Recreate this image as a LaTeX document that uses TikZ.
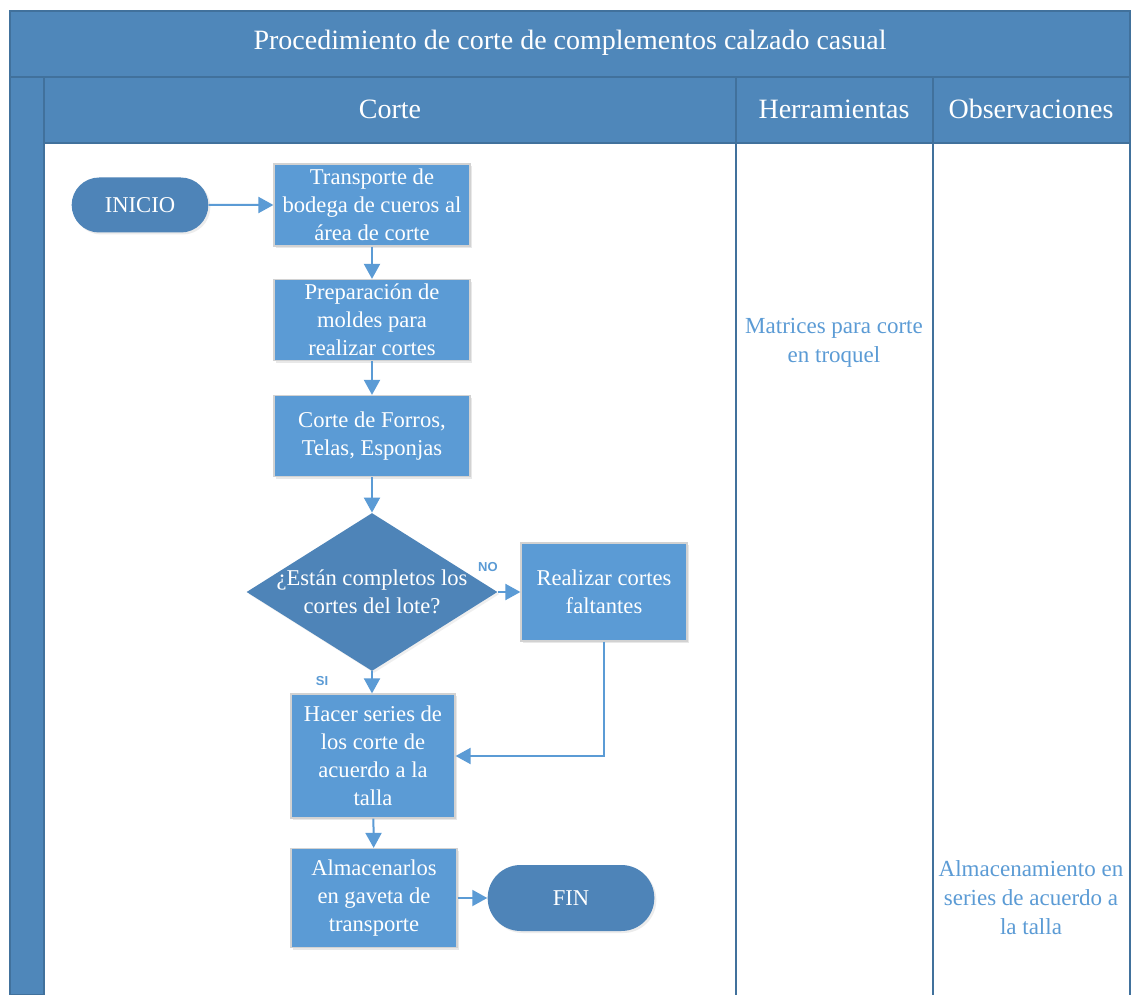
\documentclass[tikz,border=0pt]{standalone}
\usepackage{xcolor}
\usepackage{fontspec}
\setmainfont{Liberation Serif}
\setsansfont{Liberation Sans}
\usetikzlibrary{arrows.meta, positioning, shapes.geometric, shapes.misc, shadows}
\definecolor{chead} {RGB}{79,135,186}
\definecolor{cline} {RGB}{65,113,156}
\definecolor{cbox}  {RGB}{91,155,213}
\definecolor{cdark} {RGB}{78,132,184}
\tikzset{
  band/.style={fill=chead, draw=cline, line width=0.8pt},
  htxt/.style={text=white, font=\fontsize{14}{16}\selectfont},
  proc/.style={rectangle, fill=cbox, draw=gray!35, line width=0.6pt,
               text=white, font=\fontsize{11.3}{14}\selectfont, align=center,
               inner sep=0pt,
               drop shadow={opacity=0.18, shadow xshift=1.2pt, shadow yshift=-1.2pt}},
  term/.style={rounded rectangle, fill=cdark, draw=none,
               text=white, font=\fontsize{11.3}{14}\selectfont,
               drop shadow={opacity=0.15, shadow xshift=1pt, shadow yshift=-1pt}},
  dec/.style={diamond, fill=cdark, draw=none, inner sep=0pt,
              minimum width=125.5pt, minimum height=79pt,
              drop shadow={opacity=0.12, shadow xshift=1pt, shadow yshift=-1pt}},
  arr/.style={-{Triangle[length=7.5pt,width=8pt]}, draw=cbox, line width=1pt},
  lbl/.style={font=\sffamily\bfseries\fontsize{6.5}{7}\selectfont, text=cbox},
  note/.style={text=cbox, font=\fontsize{11.5}{14.5}\selectfont, align=center},
  colline/.style={draw=cline, line width=1.3pt},
}

\begin{document}
\begin{tikzpicture}[x=0.5pt, y=-0.5pt]
  \useasboundingbox (0,0) rectangle (1132,995);

  % ── Frame: title, lane strip, column headers ──────────────────────────────
  \fill[white] (44,143) rectangle (1130,995);
  \draw[band] (10,11) rectangle (1130,77);
  \draw[band] (10,77) rectangle (44,995);
  \draw[band] (44,77)  rectangle (736,143);
  \draw[band] (736,77) rectangle (933,143);
  \draw[band] (933,77) rectangle (1130,143);
  \draw[colline] (44,143) -- (44,995);
  \draw[colline] (736,143) -- (736,995);
  \draw[colline] (933,143) -- (933,995);
  \draw[colline] (1130,143) -- (1130,995);

  \node[htxt] at (570,43)  (title) {Procedimiento de corte de complementos calzado casual};
  \node[htxt] at (390,109) (hcorte) {Corte};
  \node[htxt] at (834,109) (hherr)  {Herramientas};
  \node[htxt] at (1031,109)(hobs)   {Observaciones};

  % ── Nodes ──────────────────────────────────────────────────────────────────
  \node[term, minimum width=75pt, minimum height=27.5pt] at (140,205) (inicio) {INICIO};
  \node[proc, minimum width=98pt, minimum height=41pt]   at (372,205) (trans)
       {Transporte de\\bodega de cueros al\\área de corte};
  \node[proc, minimum width=98pt, minimum height=40.5pt] at (372,320) (prep)
       {Preparación de\\moldes para\\realizar cortes};
  \node[proc, minimum width=98pt, minimum height=40.5pt] at (372,436) (forros)
       {Corte de Forros,\\Telas, Esponjas};
  \node[dec, label={[text=white, font=\fontsize{11.3}{14}\selectfont, align=center]center:%
       {¿Están completos los\\cortes del lote?}}] at (372,592) (check) {};
  \node[proc, minimum width=83pt, minimum height=49pt]   at (604,592) (falt)
       {Realizar cortes\\faltantes};
  \node[proc, minimum width=82pt, minimum height=62pt]   at (373,756) (series)
       {Hacer series de\\los corte de\\acuerdo a la\\talla};
  \node[proc, minimum width=83pt, minimum height=49.5pt] at (374,898) (alma)
       {Almacenarlos\\en gaveta de\\transporte};
  \node[term, minimum width=90pt, minimum height=33pt] at (571,898) (fin) {FIN};

  \node[note] at (834,343)  (matr) {Matrices para corte\\en troquel};
  \node[note] at (1031,898) (obs)  {Almacenamiento en\\series de acuerdo a\\la talla};

  % ── Arrows ─────────────────────────────────────────────────────────────────
  \draw[arr] (inicio) -- (trans);
  \draw[arr] (trans)  -- (prep);
  \draw[arr] (prep)   -- (forros);
  \draw[arr] (forros) -- (check);
  \draw[arr] (check.east) -- node[lbl, pos=0, xshift=-5pt, yshift=12.5pt] {NO} (falt.west);
  \draw[arr] (check.south) -- node[lbl, pos=0, xshift=-25pt, yshift=-5pt] {SI} (check.south |- series.north);
  \draw[arr] (falt.south) |- (series.east);
  \draw[arr] (series) -- (alma);
  \draw[arr] (alma)   -- (fin);
\end{tikzpicture}
\end{document}
